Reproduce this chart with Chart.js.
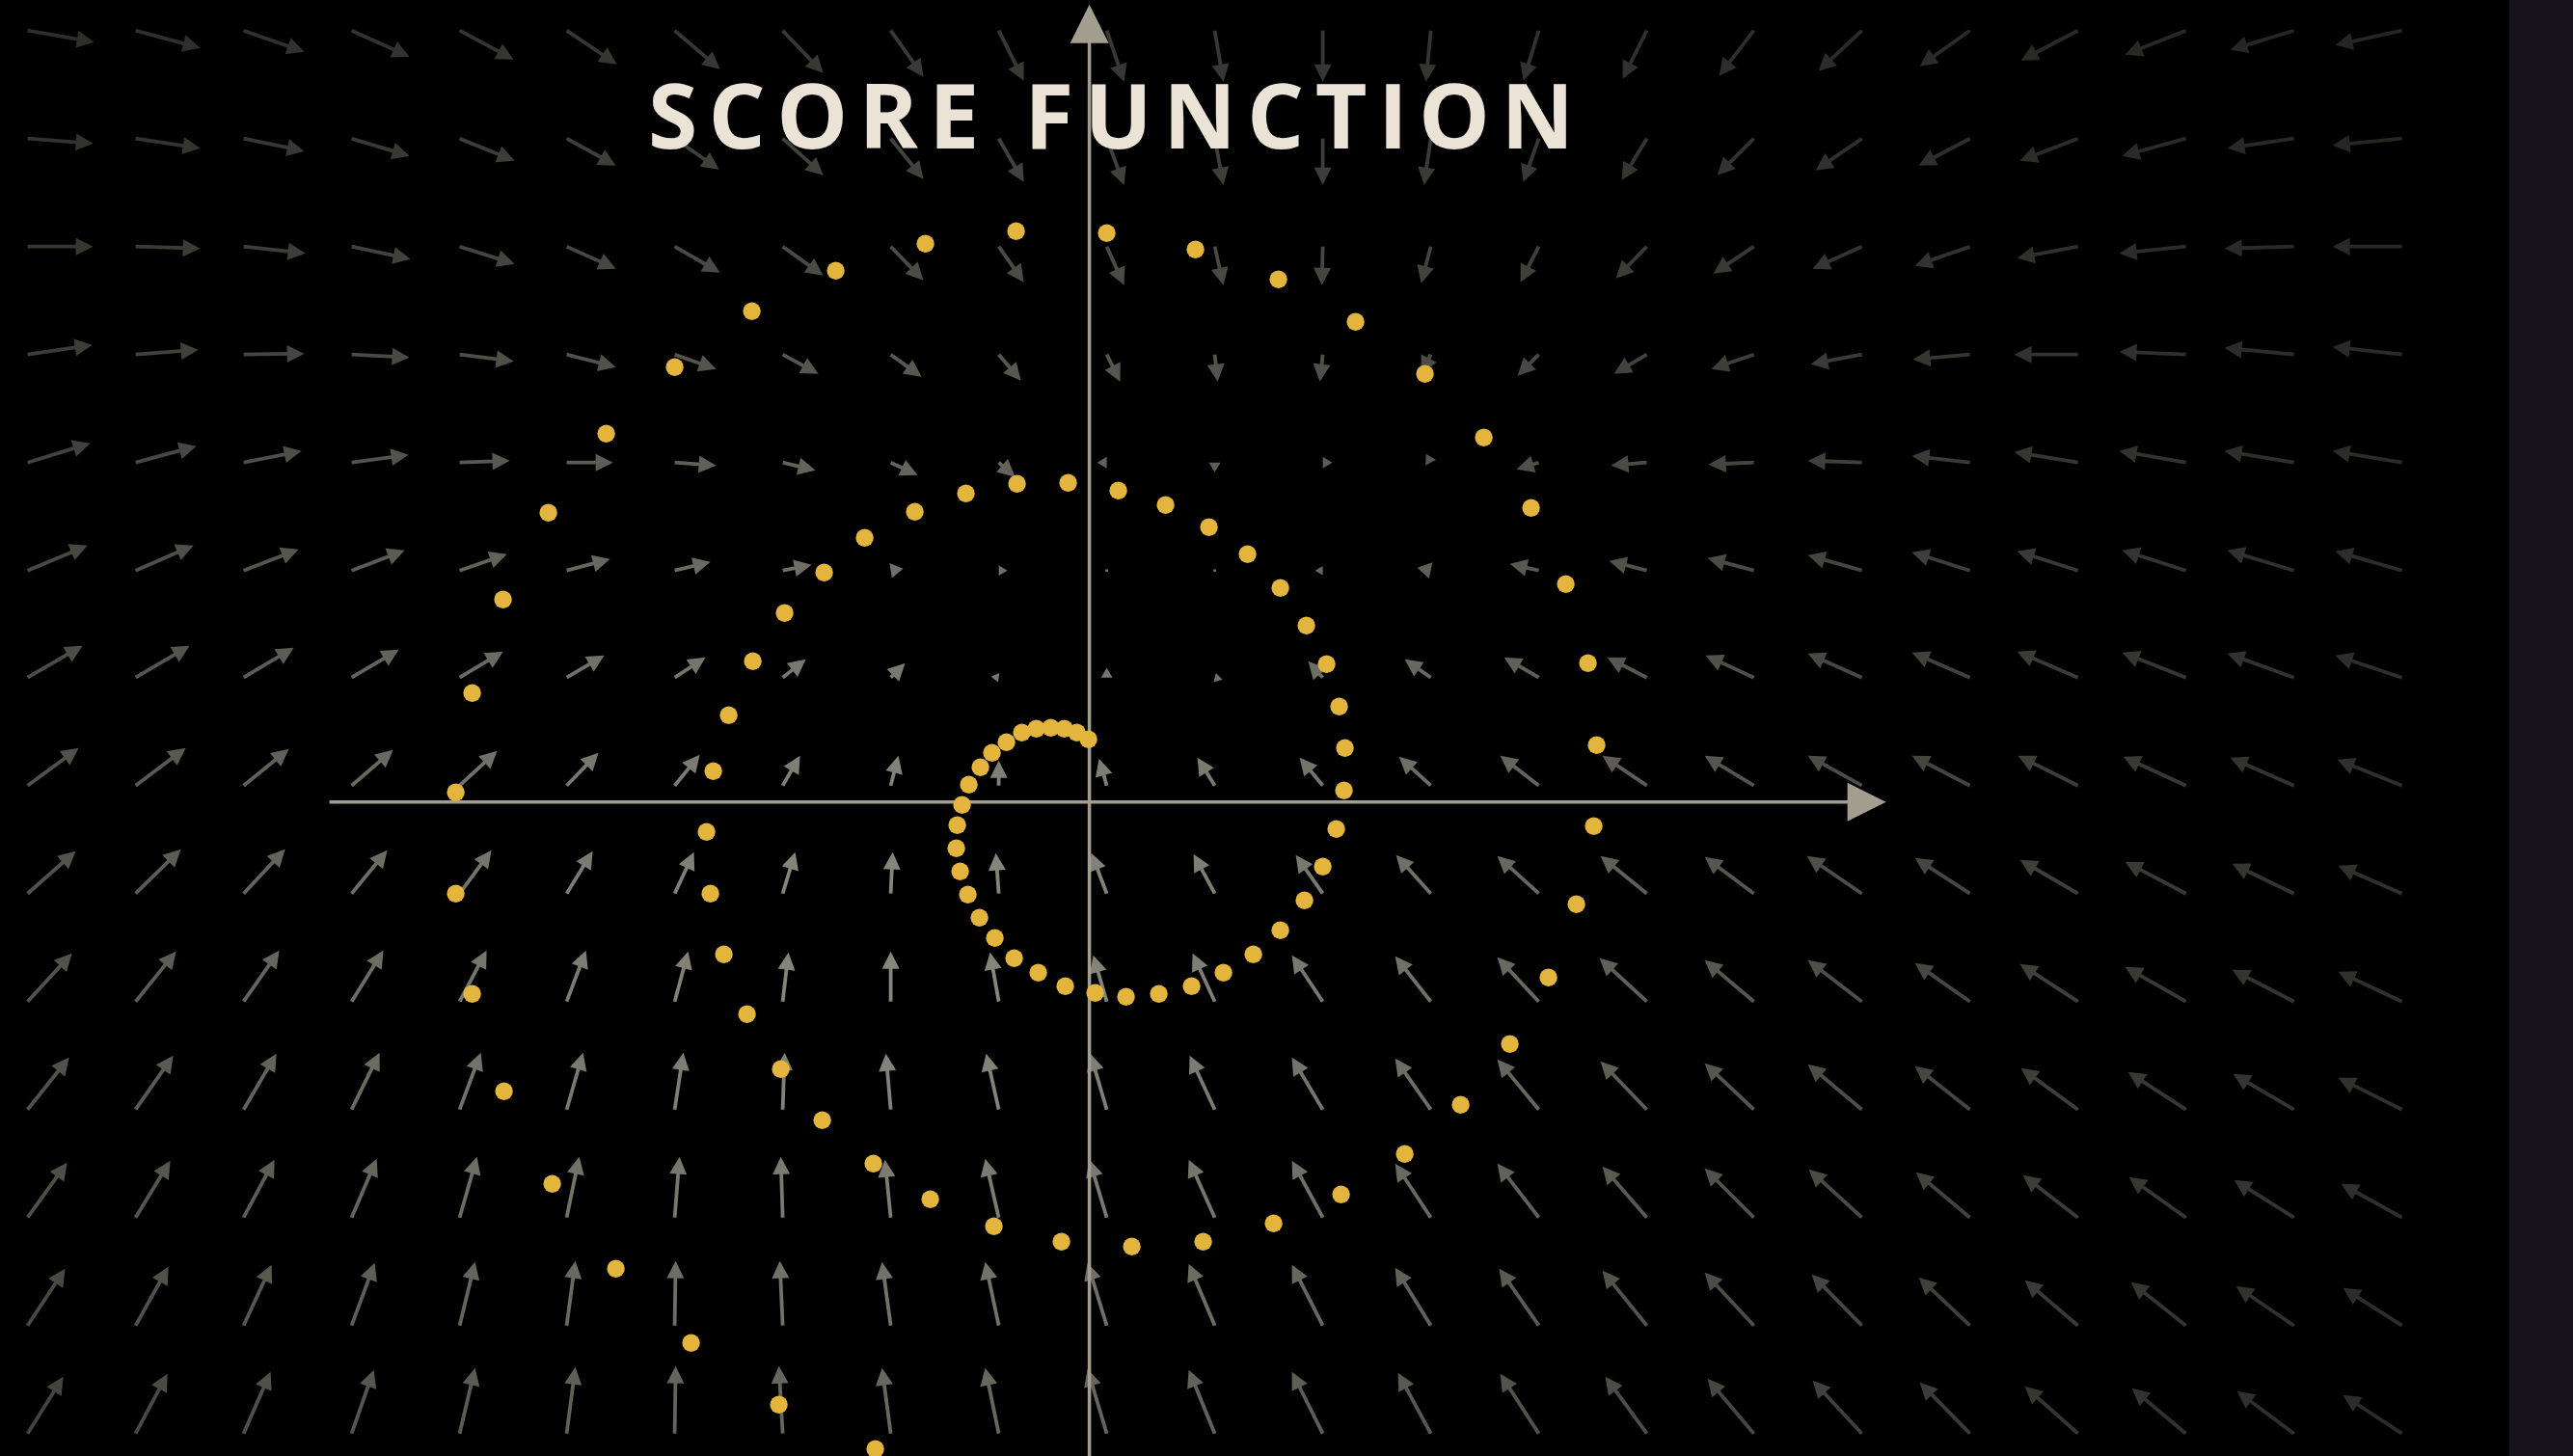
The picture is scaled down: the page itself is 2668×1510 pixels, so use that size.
<!DOCTYPE html>
<html><head><meta charset="utf-8">
<script src="https://cdn.jsdelivr.net/npm/chart.js@4.4.1/dist/chart.umd.min.js"></script>
<style>
html,body{margin:0;padding:0;background:#17131a;overflow:hidden;width:2668px;height:1510px}
#wrap{position:absolute;left:0;top:0;width:2602px;height:1510px;background:#000}
</style></head><body>
<div id="wrap"><canvas id="c"></canvas></div>
<script>
const titleText = 'SCORE FUNCTION';

// quiver grid (data units)
const gridX = [-11.01,-9.89,-8.77,-7.65,-6.53,-5.42,-4.30,-3.18,-2.06,-0.94,0.18,1.30,2.42,3.54,4.66,5.78,6.89,8.01,9.13,10.25,11.37,12.49,13.61];
const gridY = [8.00,6.88,5.76,4.64,3.52,2.40,1.29,0.17,-0.95,-2.07,-3.19,-4.31,-5.43,-6.55];

// score vectors, one row per gridY
const arrowU = [
 [0.69,0.67,0.63,0.60,0.56,0.52,0.47,0.42,0.34,0.26,0.18,0.09,0.00,-0.05,-0.16,-0.25,-0.36,-0.45,-0.52,-0.59,-0.63,-0.66,-0.69],
 [0.68,0.67,0.63,0.60,0.57,0.51,0.46,0.42,0.34,0.26,0.18,0.09,0.00,-0.07,-0.16,-0.26,-0.38,-0.48,-0.53,-0.60,-0.66,-0.69,-0.72],
 [0.68,0.67,0.64,0.61,0.57,0.51,0.47,0.42,0.34,0.26,0.18,0.09,-0.01,-0.10,-0.19,-0.32,-0.42,-0.51,-0.57,-0.63,-0.69,-0.72,-0.72],
 [0.67,0.65,0.63,0.60,0.56,0.51,0.43,0.37,0.32,0.23,0.14,0.03,-0.03,-0.10,-0.22,-0.34,-0.44,-0.53,-0.59,-0.66,-0.69,-0.72,-0.72],
 [0.65,0.63,0.60,0.59,0.52,0.48,0.43,0.34,0.28,0.17,-0.10,0.00,0.10,-0.05,-0.23,-0.37,-0.47,-0.56,-0.60,-0.66,-0.69,-0.72,-0.72],
 [0.62,0.60,0.57,0.55,0.49,0.45,0.37,0.30,0.13,0.09,0.01,0.01,-0.08,-0.14,-0.30,-0.39,-0.48,-0.56,-0.60,-0.63,-0.66,-0.69,-0.69],
 [0.57,0.56,0.52,0.49,0.45,0.39,0.32,0.24,0.15,-0.08,0.00,0.08,-0.15,-0.27,-0.36,-0.41,-0.50,-0.56,-0.60,-0.63,-0.66,-0.69,-0.69],
 [0.53,0.52,0.47,0.43,0.39,0.33,0.26,0.18,0.08,0.00,-0.08,-0.18,-0.24,-0.33,-0.40,-0.46,-0.51,-0.56,-0.60,-0.62,-0.65,-0.66,-0.67],
 [0.50,0.47,0.43,0.37,0.33,0.27,0.20,0.13,0.02,-0.03,-0.16,-0.22,-0.28,-0.36,-0.43,-0.48,-0.51,-0.57,-0.57,-0.60,-0.63,-0.64,-0.66],
 [0.46,0.42,0.37,0.33,0.28,0.20,0.14,0.06,0.00,-0.09,-0.14,-0.23,-0.32,-0.37,-0.43,-0.49,-0.51,-0.56,-0.57,-0.60,-0.63,-0.64,-0.66],
 [0.43,0.39,0.34,0.29,0.22,0.17,0.09,0.02,-0.05,-0.13,-0.17,-0.26,-0.32,-0.37,-0.43,-0.48,-0.51,-0.56,-0.57,-0.59,-0.60,-0.63,-0.66],
 [0.41,0.36,0.32,0.26,0.18,0.13,0.05,-0.02,-0.06,-0.14,-0.18,-0.27,-0.32,-0.37,-0.43,-0.46,-0.51,-0.55,-0.56,-0.57,-0.59,-0.62,-0.63],
 [0.39,0.34,0.29,0.24,0.16,0.09,0.01,-0.03,-0.09,-0.14,-0.20,-0.27,-0.32,-0.37,-0.41,-0.46,-0.51,-0.52,-0.53,-0.55,-0.57,-0.60,-0.61],
 [0.37,0.33,0.28,0.23,0.16,0.09,0.01,-0.04,-0.09,-0.14,-0.20,-0.27,-0.32,-0.34,-0.40,-0.43,-0.48,-0.51,-0.52,-0.55,-0.56,-0.59,-0.61]
];
const arrowV = [
 [-0.12,-0.18,-0.22,-0.27,-0.30,-0.35,-0.40,-0.44,-0.48,-0.52,-0.53,-0.53,-0.53,-0.53,-0.52,-0.50,-0.47,-0.42,-0.37,-0.31,-0.25,-0.20,-0.15],
 [-0.05,-0.10,-0.13,-0.18,-0.23,-0.28,-0.32,-0.38,-0.42,-0.45,-0.48,-0.48,-0.48,-0.48,-0.45,-0.43,-0.38,-0.33,-0.28,-0.23,-0.18,-0.10,-0.07],
 [0.00,-0.02,-0.07,-0.13,-0.18,-0.23,-0.27,-0.30,-0.35,-0.37,-0.40,-0.40,-0.40,-0.38,-0.37,-0.33,-0.28,-0.23,-0.20,-0.12,-0.07,-0.02,0.00],
 [0.10,0.05,0.01,-0.03,-0.07,-0.13,-0.15,-0.20,-0.23,-0.27,-0.28,-0.28,-0.28,-0.20,-0.22,-0.20,-0.15,-0.10,-0.05,0.00,0.03,0.07,0.08],
 [0.20,0.17,0.12,0.08,0.02,0.00,-0.03,-0.08,-0.13,-0.15,0.00,-0.10,0.00,0.09,-0.07,-0.03,-0.02,0.02,0.07,0.11,0.12,0.12,0.12],
 [0.26,0.26,0.22,0.21,0.17,0.12,0.09,0.06,0.02,0.00,0.00,0.00,0.00,0.03,0.07,0.10,0.13,0.16,0.19,0.20,0.21,0.21,0.20],
 [0.33,0.33,0.31,0.29,0.27,0.23,0.21,0.19,0.15,0.01,0.10,-0.02,0.17,0.19,0.21,0.21,0.23,0.25,0.26,0.27,0.26,0.25,0.23],
 [0.39,0.39,0.38,0.37,0.36,0.34,0.32,0.31,0.31,0.26,0.28,0.29,0.29,0.30,0.31,0.31,0.31,0.31,0.31,0.31,0.30,0.29,0.27],
 [0.44,0.46,0.46,0.45,0.45,0.44,0.43,0.43,0.43,0.42,0.42,0.41,0.40,0.40,0.39,0.39,0.38,0.39,0.37,0.35,0.33,0.31,0.29],
 [0.50,0.52,0.53,0.53,0.53,0.53,0.52,0.51,0.52,0.51,0.48,0.50,0.48,0.47,0.46,0.45,0.43,0.43,0.40,0.39,0.36,0.33,0.31],
 [0.54,0.56,0.58,0.59,0.59,0.59,0.59,0.59,0.58,0.58,0.58,0.56,0.54,0.53,0.52,0.50,0.48,0.47,0.45,0.43,0.39,0.37,0.33],
 [0.57,0.59,0.60,0.61,0.63,0.63,0.63,0.63,0.60,0.61,0.60,0.60,0.59,0.56,0.56,0.53,0.51,0.50,0.47,0.44,0.42,0.39,0.35],
 [0.59,0.61,0.63,0.65,0.66,0.67,0.67,0.67,0.66,0.66,0.65,0.64,0.63,0.60,0.59,0.57,0.55,0.53,0.50,0.47,0.45,0.41,0.39],
 [0.59,0.62,0.64,0.66,0.68,0.69,0.70,0.70,0.68,0.68,0.67,0.66,0.64,0.63,0.62,0.59,0.57,0.55,0.53,0.49,0.47,0.44,0.40]
];

// sample points on the spiral (inner end to outer end)
const spiralX = [-0.01,-0.13,-0.26,-0.40,-0.55,-0.70,-0.86,-1.01,-1.13,-1.25,-1.32,-1.37,-1.38,-1.34,-1.26,-1.14,-0.98,-0.78,-0.53,-0.25,
 0.06,0.38,0.72,1.06,1.39,1.70,1.98,2.23,2.42,2.56,2.64,2.65,2.59,2.46,2.25,1.98,1.64,1.24,0.79,0.30,
 -0.22,-0.75,-1.28,-1.81,-2.33,-2.75,-3.16,-3.49,-3.74,-3.90,-3.97,-3.93,-3.79,-3.55,-3.20,-2.77,-2.24,-1.65,-0.99,-0.29,
 0.44,1.18,1.91,2.61,3.27,3.85,4.36,4.76,5.05,5.23,5.26,5.17,4.94,4.58,4.09,3.48,2.76,1.96,1.10,0.18,
 -0.76,-1.70,-2.63,-3.50,-4.30,-5.01,-5.61,-6.08,-6.40,-6.57,-6.57,-6.40,-6.07,-5.57,-4.91,-4.13,-3.22,-2.22];
const spiralY = [0.65,0.72,0.76,0.77,0.76,0.72,0.62,0.51,0.36,0.18,-0.03,-0.24,-0.48,-0.72,-0.96,-1.20,-1.41,-1.62,-1.77,-1.91,
 -1.98,-2.02,-1.99,-1.91,-1.77,-1.58,-1.33,-1.02,-0.67,-0.28,0.12,0.56,0.99,1.43,1.83,2.22,2.57,2.85,3.08,3.23,
 3.31,3.30,3.20,3.01,2.74,2.38,1.96,1.46,0.90,0.32,-0.31,-0.95,-1.58,-2.20,-2.77,-3.30,-3.75,-4.12,-4.40,-4.56,
 -4.61,-4.56,-4.37,-4.07,-3.65,-3.14,-2.51,-1.82,-1.06,-0.25,0.59,1.44,2.26,3.05,3.78,4.44,4.98,5.42,5.73,5.90,
 5.92,5.79,5.51,5.09,4.51,3.82,3.00,2.10,1.13,0.10,-0.95,-1.99,-3.00,-3.96,-4.84,-5.61,-6.25,-6.71];

// coordinate axes drawn with arrowheads: [from, to]
const axisXRange = [-7.88, 8.26];
const axisYRange = [-7.20, 8.27];

const view = {xMin:-11.296, xMax:14.724, yMin:-6.783, yMax:8.317};

const quiverData = [];
gridY.forEach((y,j)=>gridX.forEach((x,i)=>quiverData.push({x, y, u:arrowU[j][i], v:arrowV[j][i]})));

const quiverPlugin = {
  id:'quiver',
  beforeDatasetsDraw(chart){
    const ctx = chart.ctx, xs = chart.scales.x, ys = chart.scales.y;
    const pts = chart.data.datasets[1].data;
    const HL = 18, HW = 9;
    ctx.save();
    for (const p of pts){
      const x0 = xs.getPixelForValue(p.x), y0 = ys.getPixelForValue(p.y);
      const x1 = xs.getPixelForValue(p.x+p.u), y1 = ys.getPixelForValue(p.y+p.v);
      const dx = x1-x0, dy = y1-y0, L = Math.hypot(dx,dy);
      const ex = (p.x+1.8)/11, ey = (p.y+1.68)/8;
      const b = 34 + 100*Math.exp(-(ex*ex+ey*ey));
      const col = `rgb(${b.toFixed(0)},${b.toFixed(0)},${(b*0.92).toFixed(0)})`;
      ctx.fillStyle = col; ctx.strokeStyle = col;
      if (L < 2){ ctx.beginPath(); ctx.arc(x0,y0,1.6,0,Math.PI*2); ctx.fill(); continue; }
      const ux = dx/L, uy = dy/L, nx = -uy, ny = ux;
      let hl = HL, hw = HW;
      if (L < HL*1.05){ hl = L; hw = Math.max(3.5, L*0.6); }
      const bx = x1 - ux*hl, by = y1 - uy*hl;
      if (L > hl){
        ctx.lineWidth = 3.8; ctx.lineCap = 'butt';
        ctx.beginPath(); ctx.moveTo(x0,y0); ctx.lineTo(bx+ux*2, by+uy*2); ctx.stroke();
      }
      ctx.beginPath();
      ctx.moveTo(x1,y1);
      ctx.lineTo(bx+nx*hw, by+ny*hw);
      ctx.lineTo(bx-nx*hw, by-ny*hw);
      ctx.closePath(); ctx.fill();
    }
    // axes
    const ac = '#a39e90';
    ctx.fillStyle = ac; ctx.strokeStyle = ac; ctx.lineWidth = 3.5;
    const oy = ys.getPixelForValue(0), ox = xs.getPixelForValue(0);
    const xa = xs.getPixelForValue(axisXRange[0]), xb = xs.getPixelForValue(axisXRange[1]);
    const ya = ys.getPixelForValue(axisYRange[0]), yb = ys.getPixelForValue(axisYRange[1]);
    const AL = 40, AW = 20;
    ctx.beginPath(); ctx.moveTo(xa,oy); ctx.lineTo(xb-AL+2,oy); ctx.stroke();
    ctx.beginPath(); ctx.moveTo(xb,oy); ctx.lineTo(xb-AL,oy-AW); ctx.lineTo(xb-AL,oy+AW); ctx.closePath(); ctx.fill();
    ctx.beginPath(); ctx.moveTo(ox,ya); ctx.lineTo(ox,yb+AL-2); ctx.stroke();
    ctx.beginPath(); ctx.moveTo(ox,yb); ctx.lineTo(ox-AW,yb+AL); ctx.lineTo(ox+AW,yb+AL); ctx.closePath(); ctx.fill();
    ctx.restore();
  },
  afterDatasetsDraw(chart){
    const ctx = chart.ctx;
    ctx.save();
    ctx.font = '700 93px "Open Sans"';
    ctx.fillStyle = '#ebe3d5';
    ctx.textBaseline = 'alphabetic';
    const chars = [...titleText];
    const widths = chars.map(c=>ctx.measureText(c).width);
    const sum = widths.reduce((a,b)=>a+b,0);
    const left = 672, right = 1632;
    const sp = (right-left-sum)/(chars.length-1);
    let x = left;
    chars.forEach((c,k)=>{ ctx.fillText(c, x, 154); x += widths[k]+sp; });
    ctx.restore();
  }
};

new Chart(document.getElementById('c'), {
  type:'scatter',
  data:{datasets:[
    {label:'samples', data: spiralX.map((x,i)=>({x, y:spiralY[i]})), pointRadius:9.2, pointHoverRadius:9.2,
     backgroundColor:'#e3b53c', borderWidth:0, order:0},
    {label:'score', data: quiverData, pointRadius:0, pointHoverRadius:0, order:1}
  ]},
  options:{
    responsive:true, maintainAspectRatio:false, animation:false,
    layout:{padding:0, autoPadding:false},
    events:[],
    plugins:{legend:{display:false}, tooltip:{enabled:false}},
    scales:{
      x:{type:'linear', min:view.xMin, max:view.xMax, display:false},
      y:{type:'linear', min:view.yMin, max:view.yMax, display:false}
    }
  },
  plugins:[quiverPlugin]
});
</script>
</body></html>
